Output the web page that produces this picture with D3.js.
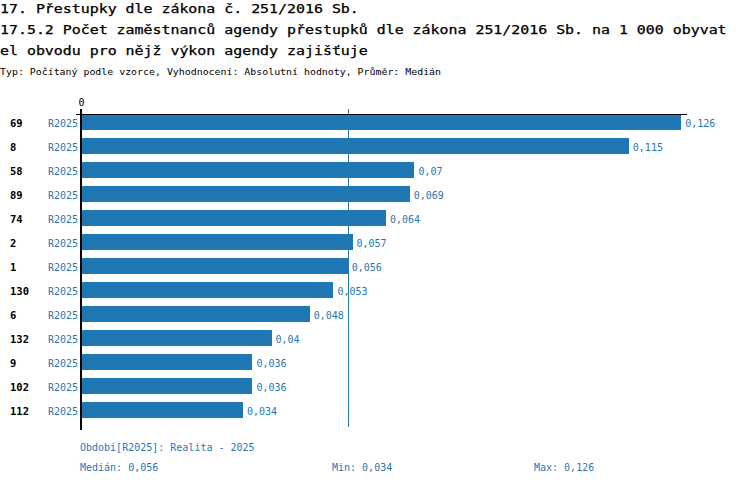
<!DOCTYPE html>
<html><head><meta charset="utf-8">
<script src="https://cdn.jsdelivr.net/npm/d3@7"></script>
<style>
html,body{margin:0;padding:0;background:#fff;}
svg{display:block;}
text{font-family:"DejaVu Sans Mono","Liberation Mono",monospace;}
</style></head>
<body>
<svg id="chart" width="750" height="486"></svg>
<script>
const titleLines = [
  "17. Přestupky dle zákona č. 251/2016 Sb.",
  "17.5.2 Počet zaměstnanců agendy přestupků dle zákona 251/2016 Sb. na 1 000 obyvat",
  "el obvodu pro nějž výkon agendy zajišťuje"
];
const subtitle = "Typ: Počítaný podle vzorce, Vyhodnocení: Absolutní hodnoty, Průměr: Medián";
const categories = ["69","8","58","89","74","2","1","130","6","132","9","102","112"];
const seriesName = "R2025";
const values = [0.126,0.115,0.07,0.069,0.064,0.057,0.056,0.053,0.048,0.04,0.036,0.036,0.034];
const xTicks = [0];
const median = 0.056, minV = 0.034, maxV = 0.126;
const legendText = "Období[R2025]: Realita - 2025";
const statLabels = ["Medián: 0,056", "Min: 0,034", "Max: 0,126"];

const blue = "#1f77b4";
const svg = d3.select("#chart");
const fmt = v => String(v).replace(".", ",");

// titles
const tY = [13, 34, 55];
titleLines.forEach((t, i) => {
  svg.append("text").attr("x", 0).attr("y", tY[i])
    .attr("font-size", 11.5).attr("fill", "#000")
    .attr("stroke", "#000").attr("stroke-width", 0.25)
    .attr("textLength", t.length * 8.97).attr("lengthAdjust", "spacingAndGlyphs")
    .text(t);
});
svg.append("text").attr("x", 0).attr("y", 75)
  .attr("font-size", 9).attr("fill", "#000")
  .attr("textLength", subtitle.length * 5.96).attr("lengthAdjust", "spacingAndGlyphs")
  .text(subtitle);

// scales
const x = d3.scaleLinear().domain([0, 0.127]).range([81, 686]);
const y = d3.scaleBand().domain(categories).range([114, 418]).paddingInner(1/3).paddingOuter(0);

const g = svg.append("g");

// bars
g.selectAll("rect.bar").data(values).join("rect")
  .attr("class", "bar")
  .attr("x", x(0))
  .attr("y", (d, i) => y(categories[i]))
  .attr("width", d => x(d) - x(0))
  .attr("height", y.bandwidth())
  .attr("fill", blue)
  .attr("shape-rendering", "crispEdges");

// category labels
g.selectAll("text.cat").data(categories).join("text")
  .attr("class", "cat")
  .attr("x", 10)
  .attr("y", d => y(d) + y.bandwidth() / 2 + 4.5)
  .attr("font-size", 10.5).attr("font-weight", "bold").attr("fill", "#000")
  .text(d => d);

// series labels
g.selectAll("text.ser").data(categories).join("text")
  .attr("class", "ser")
  .attr("x", x(0) - 3)
  .attr("y", d => y(d) + y.bandwidth() / 2 + 4.5)
  .attr("text-anchor", "end")
  .attr("font-size", 10).attr("fill", blue)
  .text(seriesName);

// value labels
g.selectAll("text.val").data(values).join("text")
  .attr("class", "val")
  .attr("x", d => x(d) + 4)
  .attr("y", (d, i) => y(categories[i]) + y.bandwidth() / 2 + 4.5)
  .attr("font-size", 10).attr("fill", blue)
  .text(d => fmt(d));

// median line
g.append("line")
  .attr("x1", Math.round(x(median)) + 0.5).attr("x2", Math.round(x(median)) + 0.5)
  .attr("y1", 109).attr("y2", 427)
  .attr("stroke", blue).attr("stroke-width", 1);

// top axis
const axis = d3.axisTop(x).tickValues(xTicks).tickFormat(d => String(d)).tickSize(5).tickSizeOuter(0);
const ax = svg.append("g").attr("transform", "translate(0,114)").call(axis);
ax.select(".domain").attr("stroke", "#000").attr("shape-rendering", "crispEdges");
ax.selectAll(".tick text").attr("font-family", "DejaVu Sans Mono, monospace").attr("font-size", 10).attr("fill", "#000").attr("y", -8);
ax.selectAll(".tick line").attr("stroke", "#000");

// vertical zero axis
svg.append("line")
  .attr("x1", x(0)).attr("x2", x(0))
  .attr("y1", 109).attr("y2", 430)
  .attr("stroke", "#000").attr("stroke-width", 2)
  .attr("shape-rendering", "crispEdges");
svg.append("line")
  .attr("x1", x(0) - 5).attr("x2", x(0))
  .attr("y1", 114).attr("y2", 114)
  .attr("stroke", "#000").attr("stroke-width", 1)
  .attr("shape-rendering", "crispEdges");

// footer
svg.append("text").attr("x", 80).attr("y", 451)
  .attr("font-size", 10).attr("fill", blue).text(legendText);
const statX = [80, 332, 534];
statLabels.forEach((t, i) => {
  svg.append("text").attr("x", statX[i]).attr("y", 471)
    .attr("font-size", 10).attr("fill", blue).text(t);
});
</script>
</body></html>
